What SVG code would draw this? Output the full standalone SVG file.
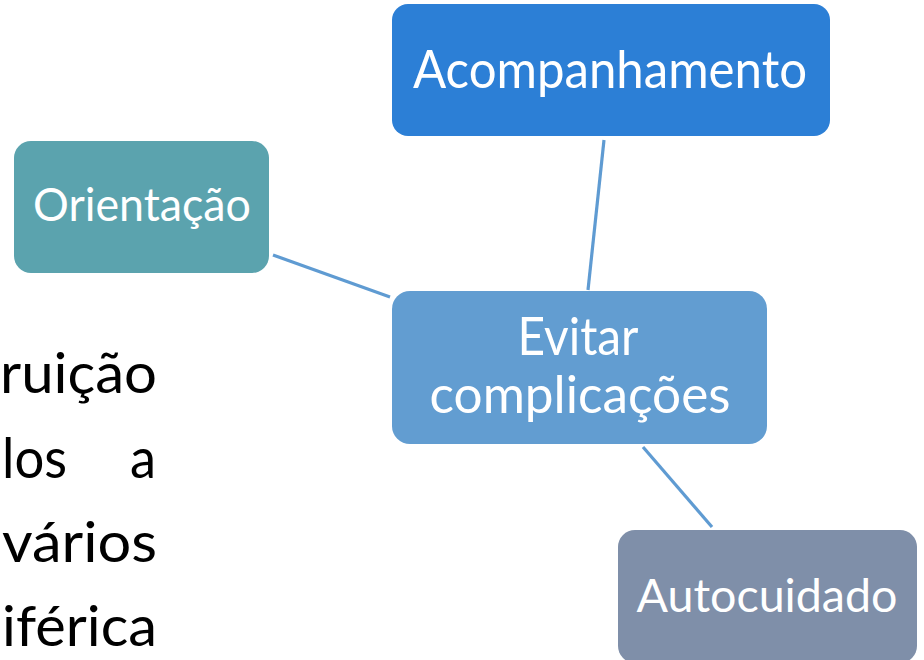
<svg xmlns="http://www.w3.org/2000/svg" width="924" height="660" viewBox="0 0 924 660">
<style>
.node text{font-family:Lato,"Open Sans","Liberation Sans",sans-serif;fill:#ffffff;text-anchor:middle}
.big{font-size:52px}
.mid{font-size:46px}
.body{font-family:Lato,"Open Sans","Liberation Sans",sans-serif;font-size:56px;fill:#000000}
#connectors line{stroke:#5f9bd2;stroke-width:3.2;fill:none}
</style>
<rect width="924" height="660" fill="#ffffff"/>
<g id="bodytext">
<text class="body" x="0" y="393" textLength="157" lengthAdjust="spacingAndGlyphs">ruição</text>
<text class="body" x="2" y="478" textLength="65" lengthAdjust="spacingAndGlyphs">los</text>
<text class="body" x="130" y="478" textLength="26" lengthAdjust="spacingAndGlyphs">a</text>
<text class="body" x="2" y="562" textLength="155" lengthAdjust="spacingAndGlyphs">vários</text>
<text class="body" x="2" y="646" textLength="155" lengthAdjust="spacingAndGlyphs">iférica</text>
</g>
<g id="connectors">
<line x1="604" y1="140" x2="588" y2="290"/>
<line x1="273" y1="255" x2="390" y2="297"/>
<line x1="643" y1="447" x2="712" y2="527"/>
</g>
<g id="acompanhamento" class="node">
<rect x="392" y="4" width="438" height="132" rx="16" fill="#2c7fd6"/>
<text class="big" x="610" y="88" textLength="394" lengthAdjust="spacingAndGlyphs">Acompanhamento</text>
</g>
<g id="orientacao" class="node">
<rect x="14" y="141" width="255" height="132" rx="17" fill="#5ba3ae"/>
<text class="mid" x="142" y="221" textLength="218" lengthAdjust="spacingAndGlyphs">Orientação</text>
</g>
<g id="evitar" class="node">
<rect x="392" y="291" width="375" height="153" rx="18" fill="#629dd1"/>
<text class="big" x="578" y="355" textLength="121" lengthAdjust="spacingAndGlyphs">Evitar</text>
<text class="big" x="580" y="413" textLength="301" lengthAdjust="spacingAndGlyphs">complicações</text>
</g>
<g id="autocuidado" class="node">
<rect x="618" y="530" width="299" height="133" rx="17" fill="#7f8fa9"/>
<text class="mid" x="767" y="612" textLength="261" lengthAdjust="spacingAndGlyphs">Autocuidado</text>
</g>
</svg>
